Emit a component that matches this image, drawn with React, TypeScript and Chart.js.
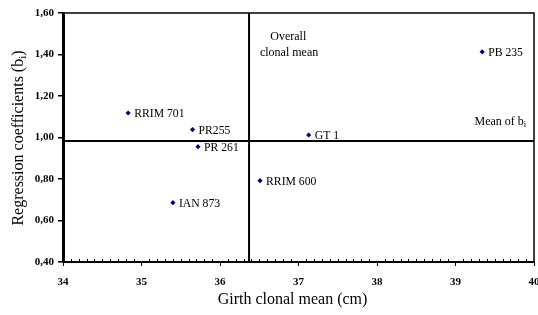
import React, { useEffect, useRef } from "react";
import { Chart, registerables } from "chart.js";

Chart.register(...registerables);

const clones = ["RRIM 701", "PR255", "PR 261", "RRIM 600", "IAN 873", "GT 1", "PB 235"];
const girthMeans = [34.83, 35.65, 35.72, 36.51, 35.4, 37.13, 39.34];
const regressionCoefs = [1.118, 1.038, 0.956, 0.792, 0.686, 1.012, 1.413];
const overallClonalMean = 36.37;
const meanOfB = 0.983;
const xTickValues = [34, 35, 36, 37, 38, 39, 40];
const yTickValues = [0.4, 0.6, 0.8, 1.0, 1.2, 1.4, 1.6];

const SERIF = "'Liberation Serif', 'Times New Roman', serif";

const decorPlugin = {
  id: "decor",
  afterDatasetsDraw(chart: any) {
    const ctx = chart.ctx;
    const xs = chart.scales.x;
    const ys = chart.scales.y;
    const area = chart.chartArea;
    ctx.save();
    // top and right border
    ctx.strokeStyle = "#000";
    ctx.lineWidth = 1.5;
    ctx.beginPath();
    ctx.moveTo(area.left, area.top);
    ctx.lineTo(area.right, area.top);
    ctx.lineTo(area.right, area.bottom);
    ctx.stroke();
    // minor ticks on x axis
    ctx.lineWidth = 1;
    ctx.beginPath();
    for (let i = 0; i <= 60; i++) {
      if (i % 10 === 0) continue;
      const v = 34 + i / 10;
      const px = Math.round(xs.getPixelForValue(v)) + 0.5;
      ctx.moveTo(px, area.bottom);
      ctx.lineTo(px, area.bottom - 3);
    }
    ctx.stroke();
    // point labels
    const meta = chart.getDatasetMeta(0);
    ctx.fillStyle = "#000";
    ctx.font = `11.7px ${SERIF}`;
    ctx.textBaseline = "middle";
    ctx.textAlign = "left";
    meta.data.forEach((pt: any, i: number) => {
      ctx.fillText(clones[i], pt.x + 6, pt.y + 1);
    });
    // annotations
    ctx.font = `12px ${SERIF}`;
    ctx.textAlign = "center";
    ctx.fillText("Overall", xs.getPixelForValue(36.87), ys.getPixelForValue(1.487));
    ctx.fillText("clonal mean", xs.getPixelForValue(36.88), ys.getPixelForValue(1.41));
    ctx.textAlign = "left";
    const mx = xs.getPixelForValue(39.9);
    const my = ys.getPixelForValue(1.074);
    ctx.font = `12px ${SERIF}`;
    const w1 = ctx.measureText("Mean of b").width;
    ctx.font = `8.5px ${SERIF}`;
    const w2 = ctx.measureText("i").width;
    const start = mx - (w1 + w2);
    ctx.font = `12px ${SERIF}`;
    ctx.fillText("Mean of b", start, my);
    ctx.font = `8.5px ${SERIF}`;
    ctx.fillText("i", start + w1, my + 3);
    // x axis title
    ctx.font = `16px ${SERIF}`;
    ctx.textAlign = "center";
    ctx.fillText("Girth clonal mean (cm)", (area.left + area.right) / 2 - 6, 300);
    // y axis title, rotated
    ctx.translate(19, 138);
    ctx.rotate(-Math.PI / 2);
    ctx.font = `16px ${SERIF}`;
    const t1 = "Regression coefficients (b";
    const a = ctx.measureText(t1).width;
    ctx.font = `11px ${SERIF}`;
    const b = ctx.measureText("i").width;
    ctx.font = `16px ${SERIF}`;
    const c = ctx.measureText(")").width;
    const total = a + b + c;
    ctx.textAlign = "left";
    ctx.fillText(t1, -total / 2, 0);
    ctx.font = `11px ${SERIF}`;
    ctx.fillText("i", -total / 2 + a, 4);
    ctx.font = `16px ${SERIF}`;
    ctx.fillText(")", -total / 2 + a + b, 0);
    ctx.restore();
  },
};

export default function App() {
  const ref = useRef<HTMLCanvasElement | null>(null);
  useEffect(() => {
    document.body.style.margin = "0";
    if (!ref.current) return;
    const chart = new Chart(ref.current, {
      type: "scatter",
      data: {
        datasets: [
          {
            data: girthMeans.map((x, i) => ({ x, y: regressionCoefs[i] })),
            pointStyle: "rectRot",
            pointRadius: 2.6,
            backgroundColor: "#000080",
            borderColor: "#000080",
            borderWidth: 0,
          },
          {
            type: "line",
            data: [
              { x: overallClonalMean, y: 0.4 },
              { x: overallClonalMean, y: 1.6 },
            ],
            borderColor: "#000",
            borderWidth: 2,
            pointRadius: 0,
          },
          {
            type: "line",
            data: [
              { x: 34, y: meanOfB },
              { x: 40, y: meanOfB },
            ],
            borderColor: "#000",
            borderWidth: 2,
            pointRadius: 0,
          },
        ] as any,
      },
      options: {
        responsive: false,
        animation: false,
        layout: { padding: { top: 13, right: 3, left: 0, bottom: 0 } },
        plugins: { legend: { display: false }, tooltip: { enabled: false } },
        scales: {
          x: {
            type: "linear",
            min: 34,
            max: 40,
            afterBuildTicks(scale: any) {
              scale.ticks = xTickValues.map((v) => ({ value: v }));
            },
            afterFit(scale: any) {
              scale.height = 53;
              scale.paddingLeft = 0;
              scale.paddingRight = 0;
            },
            border: { display: true, color: "#000", width: 2 },
            grid: { drawOnChartArea: false, drawTicks: true, tickLength: 4, color: "#000", lineWidth: 1 },
            ticks: {
              padding: 10,
              color: "#000",
              font: { family: SERIF, size: 11, weight: "bold" },
              callback: (v: any) => String(v),
            },
          },
          y: {
            type: "linear",
            min: 0.4,
            max: 1.6,
            afterBuildTicks(scale: any) {
              scale.ticks = yTickValues.map((v) => ({ value: v }));
            },
            afterFit(scale: any) {
              scale.width = 63;
              scale.paddingTop = 0;
              scale.paddingBottom = 0;
            },
            border: { display: true, color: "#000", width: 3 },
            grid: { drawOnChartArea: false, drawTicks: true, tickLength: 5, color: "#000", lineWidth: 1.5 },
            ticks: {
              padding: 4,
              color: "#000",
              font: { family: SERIF, size: 11, weight: "bold" },
              callback: (v: any) => Number(v).toFixed(2).replace(".", ","),
            },
          },
        },
      } as any,
      plugins: [decorPlugin],
    });
    return () => chart.destroy();
  }, []);
  return <canvas ref={ref} width={538} height={315} style={{ display: "block" }} />;
}
